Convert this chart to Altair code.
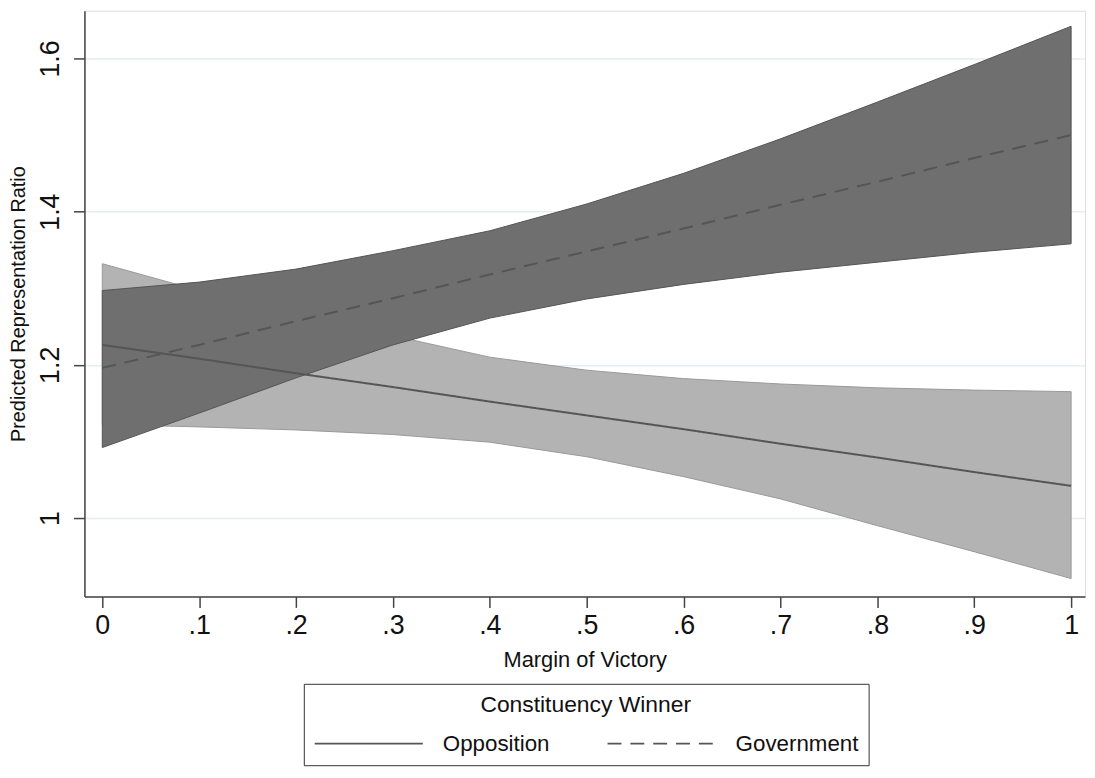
import altair as alt
import pandas as pd

# Values
margin = [0.0, 0.1, 0.2, 0.3, 0.4, 0.5, 0.6, 0.7, 0.8, 0.9, 1.0]

gov_mean = [1.196, 1.226, 1.257, 1.287, 1.318, 1.348, 1.378, 1.409, 1.439, 1.470, 1.500]
gov_lo = [1.092, 1.137, 1.183, 1.226, 1.261, 1.286, 1.305, 1.321, 1.334, 1.347, 1.358]
gov_hi = [1.297, 1.308, 1.325, 1.349, 1.375, 1.410, 1.450, 1.495, 1.543, 1.592, 1.642]

opp_mean = [1.226, 1.208, 1.189, 1.171, 1.152, 1.134, 1.116, 1.097, 1.079, 1.060, 1.042]
opp_lo = [1.122, 1.119, 1.115, 1.109, 1.099, 1.080, 1.054, 1.025, 0.990, 0.956, 0.921]
opp_hi = [1.332, 1.297, 1.268, 1.238, 1.210, 1.193, 1.182, 1.175, 1.170, 1.167, 1.165]

groups = ["Opposition", "Government"]
y_ticks = [1.0, 1.2, 1.4, 1.6]
x_ticks = margin

FONT = "Liberation Sans"

opp = pd.DataFrame({"x": margin, "lo": opp_lo, "hi": opp_hi, "mean": opp_mean,
                    "winner": groups[0]})
gov = pd.DataFrame({"x": margin, "lo": gov_lo, "hi": gov_hi, "mean": gov_mean,
                    "winner": groups[1]})
both = pd.concat([opp, gov], ignore_index=True)

xscale = alt.Scale(domain=[-0.01844, 1.01434], nice=False, zero=False)
yscale = alt.Scale(domain=[0.8976, 1.6622], nice=False, zero=False)

xaxis = alt.Axis(
    title="Margin of Victory", values=x_ticks,
    labelExpr="datum.value == 0 ? '0' : (datum.value >= 0.999 ? '1' : '.' + round(datum.value * 10))",
    labelFontSize=27, labelFont=FONT, labelColor="#111", labelPadding=5,
    tickSize=11, tickColor="#444", tickWidth=1.5,
    domainColor="#444", domainWidth=1.5, grid=False,
    titleFontSize=22, titleFont=FONT, titleFontWeight="normal", titleColor="#111",
    titlePadding=12, labelFlush=False, labelOverlap=False,
)
yaxis = alt.Axis(
    title="Predicted Representation Ratio", values=y_ticks, format="~g",
    labelFontSize=27, labelFont=FONT, labelColor="#111", labelAngle=270,
    labelAlign="center", labelBaseline="bottom", labelPadding=9,
    tickSize=11, tickColor="#444", tickWidth=1.5,
    domainColor="#444", domainWidth=1.5,
    grid=True, gridColor="#e3eef0", gridWidth=1.5,
    titleFontSize=20, titleFont=FONT, titleFontWeight="normal", titleColor="#111",
    titlePadding=8, labelFlush=False, labelOverlap=False,
)

base_x = alt.X("x:Q", scale=xscale, axis=xaxis)

opp_band = alt.Chart(opp).mark_area(
    color="#b3b3b3", opacity=1, stroke="#999999", strokeWidth=1
).encode(
    x=base_x,
    y=alt.Y("lo:Q", scale=yscale, axis=yaxis),
    y2="hi:Q",
)

gov_band = alt.Chart(gov).mark_area(
    color="#6f6f6f", opacity=1, stroke="#555555", strokeWidth=1
).encode(
    x=alt.X("x:Q", scale=xscale),
    y=alt.Y("lo:Q", scale=yscale),
    y2="hi:Q",
)

lines = alt.Chart(both).mark_line(color="#555555", strokeWidth=2).encode(
    x=alt.X("x:Q", scale=xscale),
    y=alt.Y("mean:Q", scale=yscale),
    strokeDash=alt.StrokeDash(
        "winner:N",
        scale=alt.Scale(domain=groups, range=[[1, 0], [14, 9]]),
        sort=groups,
        legend=alt.Legend(
            title="Constituency Winner", orient="none", legendX=221, legendY=678,
            direction="horizontal", titleAnchor="middle", titleFontSize=23,
            titleFont=FONT, titleFontWeight="normal", titleColor="#111",
            titleLimit=500, titlePadding=15,
            labelFontSize=22.5, labelFont=FONT, labelColor="#111", labelLimit=300,
            symbolType="M-1,0H8.9", symbolSize=484, symbolStrokeWidth=2,
            symbolStrokeColor="#555555", labelOffset=106, columnPadding=54,
            padding=10, strokeColor="#333333",
        ),
    ),
    detail="winner:N",
)

chart = alt.layer(opp_band, gov_band, lines).properties(
    width=1008, height=590,
    padding={"left": 77, "top": 0, "right": 2, "bottom": 172},
    autosize=alt.AutoSizeParams(type="none"),
).configure_view(stroke="transparent").configure(background="white")

chart.save("out.html", embed_options={"renderer": "svg", "actions": False})
